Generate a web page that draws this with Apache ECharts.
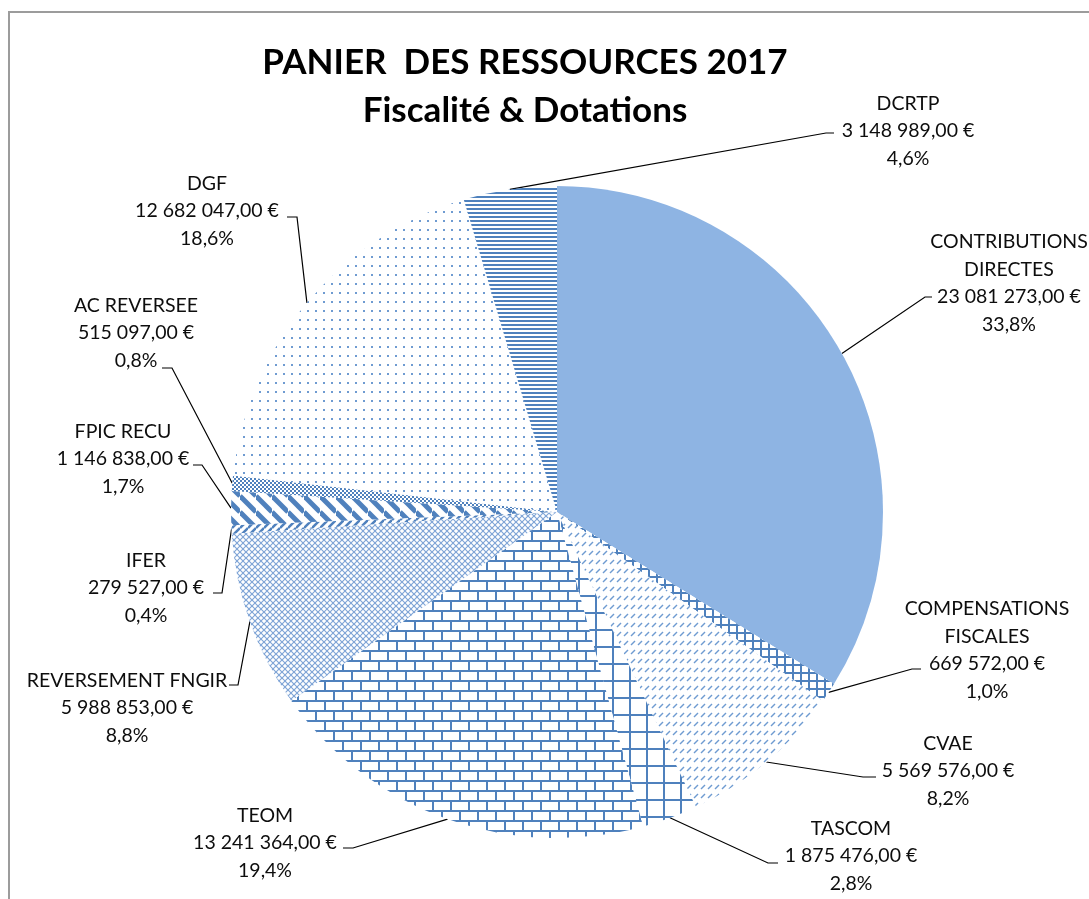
<!DOCTYPE html>
<html>
<head>
<meta charset="utf-8">
<script src="https://cdn.jsdelivr.net/npm/echarts@6/dist/echarts.min.js"></script>
<style>
html, body { margin: 0; padding: 0; background: #fff; }
#cadre { position: absolute; left: 8px; top: 11px; width: 1081px; height: 888px;
  border-left: 2px solid #9c9c9c; border-top: 2px solid #9c9c9c; }
#graph_panier { position: absolute; left: 0; top: 0; width: 1089px; height: 899px; }
</style>
</head>
<body>
<div id="cadre"></div>
<div id="graph_panier"></div>
<script>
var categories = ['CONTRIBUTIONS\nDIRECTES', 'COMPENSATIONS\nFISCALES', 'CVAE', 'TASCOM', 'TEOM',
  'REVERSEMENT FNGIR', 'IFER', 'FPIC RECU', 'AC REVERSEE', 'DGF', 'DCRTP'];
var montants = [23081273, 669572, 5569576, 1875476, 13241364, 5988853, 279527, 1146838, 515097, 12682047, 3148989];

var bleu = '#4F81BD';

// petits motifs facon Excel
function motif(w, h, dessin) {
  var c = document.createElement('canvas');
  c.width = w; c.height = h;
  var ctx = c.getContext('2d');
  ctx.fillStyle = '#fff';
  ctx.fillRect(0, 0, w, h);
  ctx.fillStyle = bleu;
  ctx.strokeStyle = bleu;
  dessin(ctx, w, h);
  return { image: c, repeat: 'repeat' };
}
function grille(ctx, w, h, lw) {
  ctx.fillRect(0, 0, w, lw);
  ctx.fillRect(0, 0, lw, h);
}
function diag(ctx, s, lw, sens) {
  ctx.lineWidth = lw;
  for (var k = -s; k <= s; k += s) {
    ctx.beginPath();
    if (sens > 0) { ctx.moveTo(0, k); ctx.lineTo(s, s + k); }
    else { ctx.moveTo(0, s + k); ctx.lineTo(s, k); }
    ctx.stroke();
  }
}

graph_panier('graph_panier');

function graph_panier(id) {
  var chart = document.getElementById(id);
  var myChart = echarts.init(chart);

  var remplissages = [
    '#8EB4E3',
    motif(8, 8, function (ctx, w, h) { grille(ctx, w, h, 2); }),
    motif(7, 9, function (ctx) { ctx.strokeStyle = '#6F9BD1'; ctx.lineWidth = 1.4; ctx.beginPath(); ctx.moveTo(1, 6); ctx.lineTo(5, 2); ctx.stroke(); }),
    motif(17, 17, function (ctx, w, h) { grille(ctx, w, h, 2); }),
    motif(18, 20, function (ctx) {
      ctx.fillRect(0, 0, 18, 2); ctx.fillRect(0, 10, 18, 2);
      ctx.fillRect(0, 0, 2, 10); ctx.fillRect(9, 10, 2, 10);
    }),
    motif(6, 6, function (ctx) { ctx.strokeStyle = '#7FA5D6'; diag(ctx, 6, 1.2, 1); diag(ctx, 6, 1.2, -1); }),
    motif(8, 8, function (ctx) { diag(ctx, 8, 2.5, -1); }),
    motif(16, 16, function (ctx) { diag(ctx, 16, 5, 1); }),
    motif(4, 4, function (ctx) { ctx.fillRect(0, 0, 2, 2); ctx.fillRect(2, 2, 2, 2); }),
    motif(8, 9, function (ctx) { ctx.fillStyle = '#6F9BD1'; ctx.fillRect(3, 4, 2, 2); }),
    motif(4, 4, function (ctx) { ctx.fillRect(0, 0, 4, 2); })
  ];

  // centre des etiquettes
  var posEtiquettes = [
    [1009, 283], [987, 650], [948, 771], [851, 856], [265, 843],
    [127, 708], [146, 588], [123, 459], [136, 333], [207, 211], [908, 131]
  ];
  // coude + bout des traits de rappel (le depart vient de la serie)
  var coudes = [
    [[925, 297], [932, 297]],
    [[912, 669], [921, 669]],
    [[863, 777], [876, 777]],
    [[768, 863], [778, 863]],
    [[353, 848], [343, 848]],
    [[238, 685], [229, 685]],
    [[222, 593], [213, 593]],
    [[202, 465], [193, 465]],
    [[172, 368], [162, 368]],
    [[297, 217], [287, 217]],
    [[826, 133], [834, 133]]
  ];

  var data = [];
  for (var i = 0; i < categories.length; i++) {
    data.push({ name: categories[i], value: montants[i], itemStyle: { color: remplissages[i] } });
  }

  function euros(v) {
    var s = String(v).replace(/\B(?=(\d{3})+(?!\d))/g, ' ');
    return s + ',00 \u20ac';
  }

  option = {
    animation: false,
    title: {
      text: 'PANIER  DES RESSOURCES 2017\nFiscalité & Dotations',
      left: 520,
      top: 34,
      textAlign: 'center',
      textStyle: { fontFamily: 'Lato', fontWeight: 'bold', fontSize: 35, lineHeight: 48, color: '#000' }
    },
    series: [
      {
        type: 'pie',
        center: [557, 512],
        radius: 326,
        startAngle: 90,
        clockwise: true,
        data: data,
        itemStyle: { borderWidth: 0 },
        label: {
          show: true,
          fontFamily: 'Lato',
          fontSize: 19.5,
          lineHeight: 27.5,
          color: '#0d0d0d',
          align: 'center',
          formatter: function (p) {
            return p.name + '\n' + euros(p.value) + '\n' + p.percent.toFixed(1).replace('.', ',') + '%';
          }
        },
        labelLine: { show: true, lineStyle: { color: '#000', width: 1.2 } },
        labelLayout: function (p) {
          var pos = posEtiquettes[p.dataIndex];
          var res = { x: pos[0], y: pos[1], align: 'center', verticalAlign: 'middle' };
          if (p.labelLinePoints && p.labelLinePoints.length) {
            var c = coudes[p.dataIndex];
            res.labelLinePoints = [p.labelLinePoints[0].slice(), c[0], c[1]];
          }
          return res;
        }
      }
    ]
  };

  myChart.setOption(option);
}
</script>
</body>
</html>
